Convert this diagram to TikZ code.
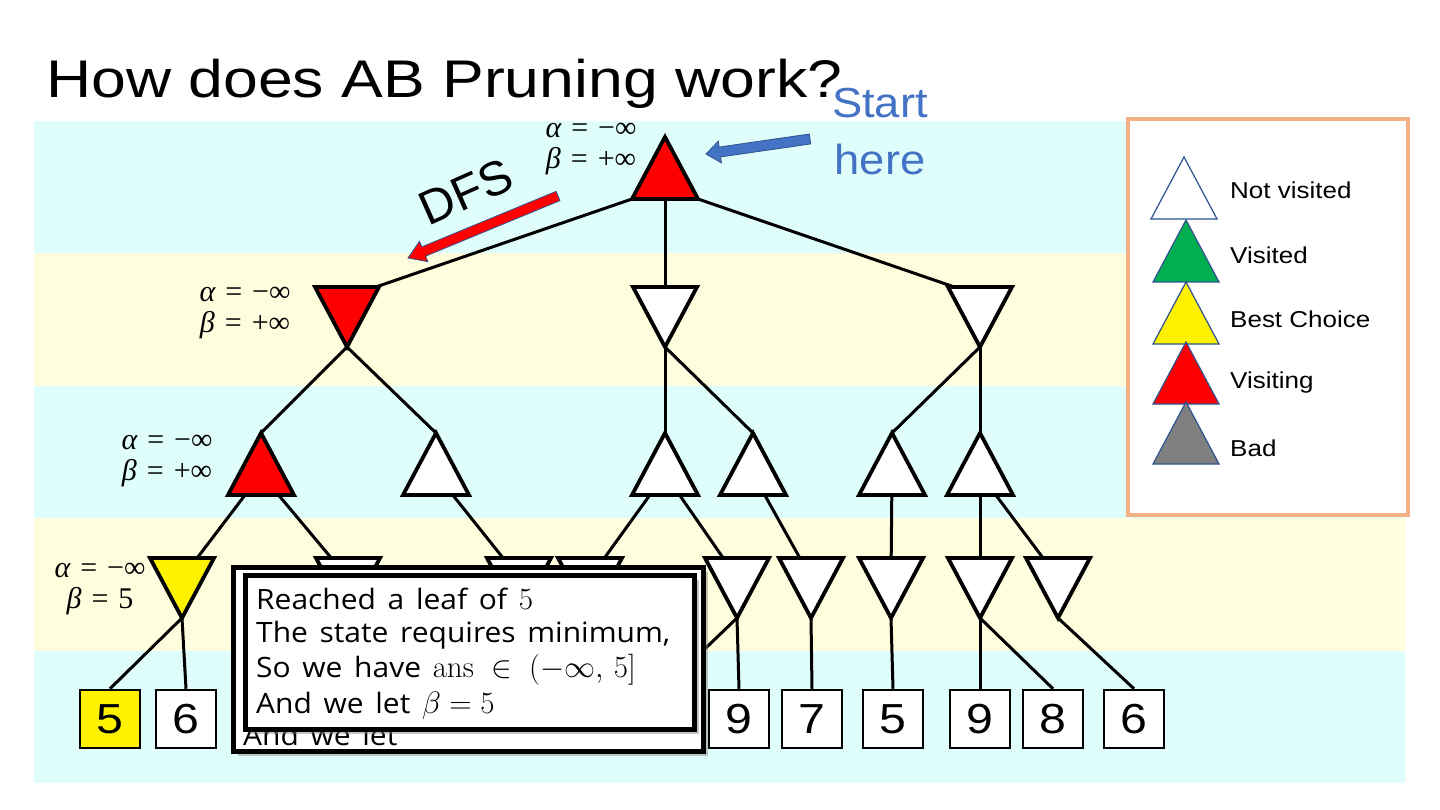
\RequirePackage{fix-cm}
\documentclass[tikz,border=0pt]{standalone}
\usepackage[no-math]{fontspec}
\setmainfont{Liberation Sans}
\newfontfamily\titlefont[FakeStretch=1.18]{Liberation Sans}
\newfontfamily\startfont[FakeStretch=1.08]{Liberation Sans}
\newfontfamily\legfont[FakeStretch=1.13]{Liberation Sans}
\newfontfamily\digfont[FakeStretch=1.15]{Liberation Sans}
\newfontfamily\popfont[FakeStretch=1.07,WordSpace=1.5]{Open Sans}
\newfontfamily\lserif{Liberation Serif}
\usetikzlibrary{calc,shadows}
\definecolor{bandcyan}{RGB}{223,253,250}
\definecolor{bandyellow}{RGB}{254,254,223}
\definecolor{legborder}{RGB}{244,177,131}
\definecolor{legline}{RGB}{47,82,143}
\definecolor{startblue}{RGB}{68,114,196}
\definecolor{visgreen}{RGB}{0,176,80}
\definecolor{badgray}{RGB}{128,128,128}
\newcommand{\popmath}[1]{{\fontsize{31}{31}\selectfont$#1$}}
\newcommand{\lrel}[1]{\hspace{10pt}#1\hspace{10pt}}
\tikzset{
  tri/.style={draw=black, line width=3.8pt, line join=miter},
  legtri/.style={draw=legline, line width=1.2pt},
  edge/.style={draw=black, line width=3pt},
  leaf/.style={draw=black, line width=2.5pt, fill=white, minimum width=60pt, minimum height=58pt, inner sep=0pt, font=\digfont\fontsize{42}{42}\selectfont},
  lbl/.style={align=center, inner sep=0pt, font=\lserif\fontsize{30}{31}\selectfont},
  legtxt/.style={anchor=west, inner sep=0pt, font=\legfont\fontsize{23}{23}\selectfont},
  ptx/.style={anchor=base west, inner sep=0pt, font=\popfont\fontsize{28}{28}\selectfont},
  popbox/.style={draw=black, line width=5pt, fill=white, inner sep=0pt},
}
\newcommand{\DefUp}[3]{%
  \coordinate (#1-a) at (#2,#3);
  \coordinate (#1-l) at ({#2-33},{#3+62});
  \coordinate (#1-r) at ({#2+33},{#3+62});
  \coordinate (#1-m) at (#2,{#3+62});
  \coordinate (#1-c) at (#2,{#3+41});}
\newcommand{\DefDown}[3]{%
  \coordinate (#1-a) at (#2,{#3+60});
  \coordinate (#1-l) at ({#2-32},#3);
  \coordinate (#1-r) at ({#2+32},#3);
  \coordinate (#1-m) at (#2,#3);
  \coordinate (#1-c) at (#2,{#3+20});}
\newcommand{\Tri}[2]{\draw[tri,fill=#2] (#1-a) -- (#1-l) -- (#1-r) -- cycle;}
\newcommand{\BlockArrow}[6]{%
  \coordinate (#1-h) at ($(#2)!#5!(#1)$);
  \draw[#6] ($(#1)!#3!90:(#2)$) -- ($(#1-h)!#3!-90:(#1)$) -- ($(#1-h)!#4!-90:(#1)$) -- (#2) -- ($(#1-h)!#4!90:(#1)$) -- ($(#1-h)!#3!90:(#1)$) -- ($(#1)!#3!-90:(#2)$) -- cycle;}
\begin{document}
\begin{tikzpicture}[x=1pt,y=-1pt]
\useasboundingbox (0,0) rectangle (1440,810);
\fill[white] (0,0) rectangle (1440,810);
% bands
\fill[bandcyan]   (34,121) rectangle (1405,253);
\fill[bandyellow] (34,253) rectangle (1405,386);
\fill[bandcyan]   (34,386) rectangle (1405,518);
\fill[bandyellow] (34,518) rectangle (1405,651);
\fill[bandcyan]   (34,651) rectangle (1405,783);

% legend
\draw[legborder, line width=4pt, fill=white] (1128,119) rectangle (1408,515);
\DefUp{g1}{1184}{157}\DefUp{g2}{1186}{220}\DefUp{g3}{1186}{282}\DefUp{g4}{1186}{342}\DefUp{g5}{1186}{402}
\draw[legtri,fill=white]     (g1-a) -- (g1-l) -- (g1-r) -- cycle;
\draw[legtri,fill=visgreen]  (g2-a) -- (g2-l) -- (g2-r) -- cycle;
\draw[legtri,fill=yellow]    (g3-a) -- (g3-l) -- (g3-r) -- cycle;
\draw[legtri,fill=red]       (g4-a) -- (g4-l) -- (g4-r) -- cycle;
\draw[legtri,fill=badgray]   (g5-a) -- (g5-l) -- (g5-r) -- cycle;
\node[legtxt] (t1) at (1230,190) {Not visited};
\node[legtxt] (t2) at (1230,255) {Visited};
\node[legtxt] (t3) at (1230,319) {Best Choice};
\node[legtxt] (t4) at (1230,383) {Visiting};
\node[legtxt] (t5) at (1230,448) {Bad};

% tree geometry
\DefUp{R}{665}{137}
\DefDown{A}{347}{287}\DefDown{B}{665}{287}\DefDown{C}{980}{287}
\DefUp{A1}{261}{433}\DefUp{A2}{436}{433}\DefUp{B1}{665}{433}
\DefUp{B2}{753}{433}\DefUp{C1}{892}{433}\DefUp{C2}{980}{433}
\DefDown{A1a}{182}{558}\DefDown{A1b}{348}{558}\DefDown{A2a}{519}{558}
\DefDown{B1a}{590}{558}\DefDown{B1b}{737}{558}\DefDown{B2a}{811}{558}
\DefDown{C1a}{891}{558}\DefDown{C2a}{980}{558}\DefDown{C2b}{1058}{558}
\coordinate (hid) at (662,690);

% leaves
\node[leaf,fill=yellow] (lfA) at (110,719) {5};
\node[leaf] (lfB) at (186,719) {6};
\node[leaf] (lfC) at (739,719) {9};
\node[leaf] (lfD) at (812,719) {7};
\node[leaf] (lfE) at (893,719) {5};
\node[leaf] (lfF) at (980,719) {9};
\node[leaf] (lfG) at (1053,719) {8};
\node[leaf] (lfH) at (1134,719) {6};

% edges
\draw[edge] (R-l) -- ($(A-r)!0.05!(A-l)$);
\draw[edge] (R-m) -- (B-m);
\draw[edge] (R-r) -- ($(C-l)!0.1!(C-r)$);
\draw[edge] (A-a) -- (A1-a);
\draw[edge] (A-a) -- (A2-a);
\draw[edge] (B-a) -- (B1-a);
\draw[edge] (B-a) -- (B2-a);
\draw[edge] (C-a) -- (C1-a);
\draw[edge] (C-a) -- (C2-a);
\draw[edge] (A1-c) -- (A1a-c);
\draw[edge] (A1-c) -- (A1b-c);
\draw[edge] (A2-c) -- (A2a-c);
\draw[edge] (B1-c) -- (B1a-c);
\draw[edge] (B1-c) -- (B1b-c);
\draw[edge] (B2-c) -- (B2a-c);
\draw[edge] (C1-c) -- (C1a-c);
\draw[edge] (C2-c) -- (C2a-c);
\draw[edge] (C2-c) -- (C2b-c);
\draw[edge] (A1a-a) -- (lfA.north);
\draw[edge] (A1a-a) -- (lfB.north);
\draw[edge] (B1b-a) -- (hid);
\draw[edge] (B1b-a) -- (lfC.north);
\draw[edge] (B2a-a) -- (lfD.north);
\draw[edge] (C1a-a) -- (lfE.north);
\draw[edge] (C2a-a) -- (lfF.north);
\draw[edge] (C2a-a) -- (lfG.north);
\draw[edge] (C2b-a) -- (lfH.north);

% triangles
\Tri{R}{red}
\Tri{A}{red}\Tri{B}{white}\Tri{C}{white}
\Tri{A1}{red}\Tri{A2}{white}\Tri{B1}{white}\Tri{B2}{white}\Tri{C1}{white}\Tri{C2}{white}
\Tri{A1a}{yellow}\Tri{A1b}{white}\Tri{A2a}{white}\Tri{B1a}{white}\Tri{B1b}{white}
\Tri{B2a}{white}\Tri{C1a}{white}\Tri{C2a}{white}\Tri{C2b}{white}

% alpha beta labels
\node[lbl] (lbR) at (591,149) {{\itshape α}\lrel{=}−∞\\{\itshape β}\lrel{=}+∞};
\node[lbl] (lbA) at (245,313) {{\itshape α}\lrel{=}−∞\\{\itshape β}\lrel{=}+∞};
\node[lbl] (lbA1) at (167,461) {{\itshape α}\lrel{=}−∞\\{\itshape β}\lrel{=}+∞};
\node[lbl] (lbA1a) at (100,589) {{\itshape α}\lrel{=}−∞\\{\itshape β}\lrel{=}5};

% popup
\node[popbox, minimum width=470pt, minimum height=184pt, drop shadow={shadow xshift=4pt, shadow yshift=-4pt, opacity=0.45}] (pout) at (468.5,659.5) {};
\node[ptx] (ghost) at (243,745) {And we let};
\node[popbox, minimum width=449pt, minimum height=154pt, drop shadow={shadow xshift=4pt, shadow yshift=-4pt, opacity=0.45}] (pin) at (470,652.5) {};
\node[ptx] (pl1) at (256,609) {Reached a leaf of \popmath{5}};
\node[ptx] (pl2) at (256,642) {The state requires minimum,};
\node[ptx] (pl3) at (256,677) {So we have \popmath{\mathrm{ans}\;\in\;(-\infty,\,5]}};
\node[ptx] (pl4) at (256,713) {And we let \popmath{\beta=5}};

% arrows
\coordinate (dfsS) at (558,196);
\coordinate (dfsT) at (408,258);
\BlockArrow{dfsS}{dfsT}{5pt}{11pt}{17pt}{fill=red, draw=legline, line width=0.8pt}
\coordinate (stS) at (810,139);
\coordinate (stT) at (706,154);
\BlockArrow{stS}{stT}{5pt}{11pt}{14pt}{fill=startblue, draw=legline, line width=0.8pt}
\node[rotate=24, inner sep=0pt, font=\fontsize{48}{48}\selectfont] (dfs) at (466,192) {DFS};

% title and start
\node[anchor=base west, inner sep=0pt, font=\titlefont\fontsize{53}{53}\selectfont] (title) at (46,98) {How does AB Pruning work?};
\node[anchor=base, inner sep=0pt, text=startblue, font=\startfont\fontsize{42}{42}\selectfont] (start1) at (880,118) {Start};
\node[anchor=base, inner sep=0pt, text=startblue, font=\startfont\fontsize{42}{42}\selectfont] (start2) at (880,175) {here};
\end{tikzpicture}
\end{document}
